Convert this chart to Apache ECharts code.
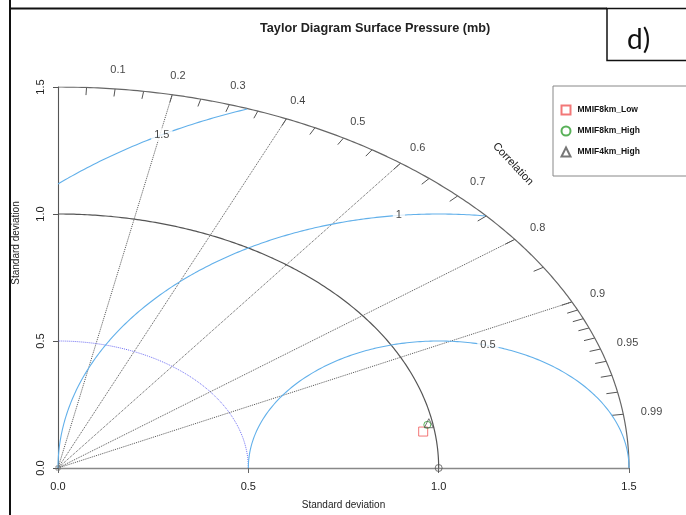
<!DOCTYPE html>
<html>
<head>
<meta charset="utf-8">
<title>Taylor Diagram Surface Pressure (mb)</title>
<script src="https://cdn.jsdelivr.net/npm/echarts@6/dist/echarts.min.js"></script>
<style>
  html, body { margin: 0; padding: 0; background: #fff; }
  #main { width: 686px; height: 515px; }
</style>
</head>
<body>
<div id="main"></div>
<script>
// model statistics
var modelNames = ['MMIF8km_Low', 'MMIF8km_High', 'MMIF4km_High'];
var modelSd = [0.970, 0.985, 0.990];
var modelCorr = [0.989, 0.985, 0.984];
var modelSymbols = ['rect', 'circle', 'triangle'];
var modelColors = ['#ef5555', '#2f9e2f', '#555555'];

var refSd = 1.0;
var maxSd = 1.5;

// grid
var sdTicks = [0, 0.5, 1.0, 1.5];
var rmsArcs = [0.5, 1.0, 1.5];
var rmsLabels = ['0.5', '1', '1.5'];
var rmsLabelAngle = [75, 96, 119]; // degrees, measured round the reference point
var corrLines = [0.2, 0.4, 0.6, 0.8, 0.9];
var corrLabels = [0.1, 0.2, 0.3, 0.4, 0.5, 0.6, 0.7, 0.8, 0.9, 0.95, 0.99];
var corrTicks = [0.05, 0.1, 0.15, 0.2, 0.25, 0.3, 0.35, 0.4, 0.45, 0.5, 0.55, 0.6, 0.65,
  0.7, 0.75, 0.8, 0.85, 0.9, 0.91, 0.92, 0.93, 0.94, 0.95, 0.96, 0.97, 0.98, 0.99];

function polar(r, c) {
  return [r * c, r * Math.sqrt(1 - c * c)];
}

// arc round (cx, 0), kept inside the quarter circle of radius maxSd
function arc(cx, r, a0, a1) {
  var pts = [];
  for (var a = a0; a <= a1 + 1e-9; a += 0.2) {
    var t = a * Math.PI / 180;
    var x = cx + r * Math.cos(t);
    var y = r * Math.sin(t);
    if (x < -1e-9 || x * x + y * y > maxSd * maxSd + 1e-6) continue;
    pts.push([x, y]);
  }
  return pts;
}

function lineSeries(data, color, width, type) {
  return {
    type: 'line',
    data: data,
    showSymbol: false,
    symbol: 'none',
    silent: true,
    z: 2,
    lineStyle: {color: color, width: width, type: type || 'solid'}
  };
}

var series = [];

// standard deviation arcs
series.push(lineSeries(arc(0, 0.5, 0, 90), '#6f6ff2', 1, 'dotted'));
series.push(lineSeries(arc(0, refSd, 0, 90), '#555', 1.2));
series.push(lineSeries(arc(0, maxSd, 0, 90), '#666', 1.2));

// centred RMS arcs
for (var i = 0; i < rmsArcs.length; i++) {
  series.push(lineSeries(arc(refSd, rmsArcs[i], 0, 180), '#62b0ea', 1.1));
}

// correlation rays
series.push({
  type: 'lines',
  coordinateSystem: 'cartesian2d',
  silent: true,
  z: 2,
  lineStyle: {color: '#555', width: 1, type: 'dotted', opacity: 1},
  data: corrLines.map(function (c) {
    return {coords: [[0, 0], polar(maxSd, c)]};
  })
});

// ticks on the outer arc
series.push({
  type: 'lines',
  coordinateSystem: 'cartesian2d',
  silent: true,
  z: 2,
  lineStyle: {color: '#555', width: 1, opacity: 1},
  data: corrTicks.map(function (c) {
    return {coords: [polar(maxSd, c), polar(maxSd - 0.03, c)]};
  })
});

// correlation labels
series.push({
  type: 'scatter',
  silent: true,
  clip: false,
  symbolSize: 0,
  z: 3,
  label: {
    show: true, position: 'inside', color: '#111', fontSize: 11,
    fontFamily: 'Liberation Sans',
    formatter: function (p) { return String(p.data[2]); }
  },
  data: corrLabels.map(function (c) {
    var p = polar(1.575, c);
    return [p[0], p[1], c];
  })
});

// RMS labels, boxed so the lines break under them
series.push({
  type: 'scatter',
  silent: true,
  clip: false,
  symbolSize: 0,
  z: 6,
  label: {
    show: true, position: 'inside', color: '#111', fontSize: 11,
    fontFamily: 'Liberation Sans', backgroundColor: '#fff', padding: [1, 3],
    formatter: function (p) { return p.data[2]; }
  },
  data: rmsArcs.map(function (g, k) {
    var t = rmsLabelAngle[k] * Math.PI / 180;
    return [refSd + g * Math.cos(t), g * Math.sin(t), rmsLabels[k]];
  })
});

// reference point and origin
series.push({
  type: 'scatter',
  silent: true,
  clip: false,
  z: 7,
  symbol: 'circle',
  symbolSize: 7,
  itemStyle: {color: 'none', borderColor: '#555', borderWidth: 1},
  data: [[refSd, 0]]
});
series.push({
  type: 'scatter',
  silent: true,
  clip: false,
  z: 7,
  symbol: 'rect',
  symbolSize: 4,
  itemStyle: {color: 'none', borderColor: '#777', borderWidth: 1},
  data: [[0, 0]]
});

// models
for (var m = 0; m < modelNames.length; m++) {
  series.push({
    name: modelNames[m],
    type: 'scatter',
    z: 8,
    symbol: modelSymbols[m],
    symbolSize: m == 1 ? 7 : 9,
    itemStyle: {color: 'none', borderColor: modelColors[m], borderWidth: 1},
    data: [polar(modelSd[m], modelCorr[m])]
  });
}

var myChart = echarts.init(document.getElementById('main'));
myChart.setOption({
  animation: false,
  backgroundColor: '#fff',
  title: {
    text: 'Taylor Diagram Surface Pressure (mb)',
    left: 255,
    top: 17,
    textStyle: {fontSize: 12.7, fontWeight: 'bold', color: '#222', fontFamily: 'Liberation Sans'}
  },
  legend: {
    orient: 'vertical',
    left: 559,
    top: 103,
    padding: 0,
    itemWidth: 9,
    itemHeight: 9,
    itemGap: 7,
    z: 5,
    textStyle: {fontSize: 8.5, fontWeight: 'bold', color: '#111', fontFamily: 'Liberation Sans', padding: [0, 0, 0, 2]},
    data: modelNames
  },
  grid: {left: 58, right: 57, top: 87, bottom: 47},
  xAxis: {
    type: 'value',
    min: 0, max: maxSd, interval: 0.5,
    name: 'Standard deviation',
    nameLocation: 'middle',
    nameGap: 32,
    nameTextStyle: {fontSize: 10, color: '#222', fontFamily: 'Liberation Sans'},
    axisLine: {lineStyle: {color: '#888', width: 1.3}},
    axisTick: {length: 5, lineStyle: {color: '#666'}},
    axisLabel: {
      margin: 13, fontSize: 11, color: '#222', fontFamily: 'Liberation Sans',
      formatter: function (v) { return v.toFixed(1); }
    },
    splitLine: {show: false}
  },
  yAxis: {
    type: 'value',
    min: 0, max: maxSd, interval: 0.5,
    axisLine: {show: true, lineStyle: {color: '#555', width: 1.1}},
    axisTick: {show: true, length: 5, lineStyle: {color: '#555'}},
    axisLabel: {
      rotate: 90, margin: 12, fontSize: 11, color: '#222', fontFamily: 'Liberation Sans',
      formatter: function (v) { return v.toFixed(1); }
    },
    splitLine: {show: false}
  },
  graphic: [
    // panel frame
    {type: 'line', z: 10, shape: {x1: 10, y1: 0, x2: 10, y2: 515}, style: {stroke: '#111', lineWidth: 2}},
    {type: 'line', z: 10, shape: {x1: 10, y1: 8.5, x2: 607, y2: 8.5}, style: {stroke: '#111', lineWidth: 2}},
    {type: 'rect', z: 10, shape: {x: 607, y: 8.5, width: 100, height: 52}, style: {fill: 'none', stroke: '#111', lineWidth: 1.5}},
    {type: 'text', z: 10, x: 627, y: 40, style: {text: 'd)', font: '28px Lato', fill: '#111', textVerticalAlign: 'middle'}},
    // legend box
    {type: 'rect', z: 0, shape: {x: 553, y: 86, width: 150, height: 90}, style: {fill: '#fff', stroke: '#888', lineWidth: 1}},
    // y axis title
    {type: 'text', z: 10, x: 16, y: 243, rotation: Math.PI / 2,
      style: {text: 'Standard deviation', font: '10px "Liberation Sans"', fill: '#222', textAlign: 'center', textVerticalAlign: 'middle'}},
    // correlation title
    {type: 'text', z: 10, x: 513, y: 164, rotation: -0.82,
      style: {text: 'Correlation', font: '11px "Liberation Sans"', fill: '#222', textAlign: 'center', textVerticalAlign: 'middle'}}
  ],
  series: series
});
</script>
</body>
</html>
